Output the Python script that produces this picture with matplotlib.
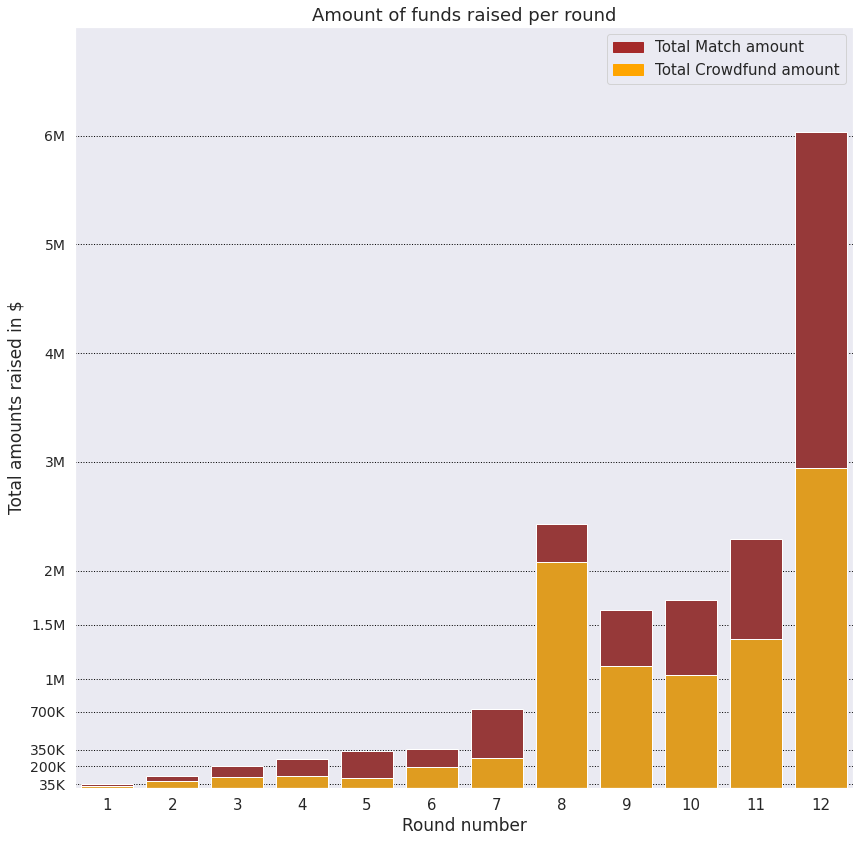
import matplotlib
matplotlib.use("Agg")
import matplotlib.pyplot as plt
import matplotlib.patches as mpatches
import seaborn as sns
import pandas as pd

rounds = [1, 2, 3, 4, 5, 6, 7, 8, 9, 10, 11, 12]
total_amount = [40e3, 110e3, 200e3, 270e3, 340e3, 360e3, 730e3, 2.43e6, 1.64e6, 1.73e6, 2.29e6, 6.03e6]
crowdfund_amount = [15e3, 60e3, 100e3, 110e3, 90e3, 190e3, 280e3, 2.08e6, 1.12e6, 1.04e6, 1.37e6, 2.94e6]
tick_values = [35e3, 200e3, 350e3, 700e3, 1e6, 1.5e6, 2e6, 3e6, 4e6, 5e6, 6e6]
tick_labels = ["35K", "200K", "350K", "700K", "1M", "1.5M", "2M", "3M", "4M", "5M", "6M"]

df = pd.DataFrame({"round": rounds, "total": total_amount, "crowd": crowdfund_amount})

sns.set_theme(style="dark")
fig, ax = plt.subplots(figsize=(862 / 72, 841 / 72), dpi=72)

sns.barplot(data=df, x="round", y="total", color="brown", ax=ax)
sns.barplot(data=df, x="round", y="crowd", color="orange", ax=ax)

ax.set_yticks(tick_values)
ax.set_yticklabels(tick_labels, fontsize=14)
ax.tick_params(axis="x", labelsize=15)
ax.set_ylim(0, 7e6)
ax.yaxis.grid(True, color="black", linestyle=":", linewidth=1)
ax.set_axisbelow(True)

ax.set_title("Amount of funds raised per round", fontsize=18)
ax.set_xlabel("Round number", fontsize=17)
ax.set_ylabel("Total amounts raised in $", fontsize=17)

handles = [mpatches.Patch(color="brown", label="Total Match amount"),
           mpatches.Patch(color="orange", label="Total Crowdfund amount")]
ax.legend(handles=handles, loc="upper right", fontsize=15)

plt.subplots_adjust(left=0.087, right=0.99, top=0.968, bottom=0.063)
plt.savefig("out.png", dpi=72)
